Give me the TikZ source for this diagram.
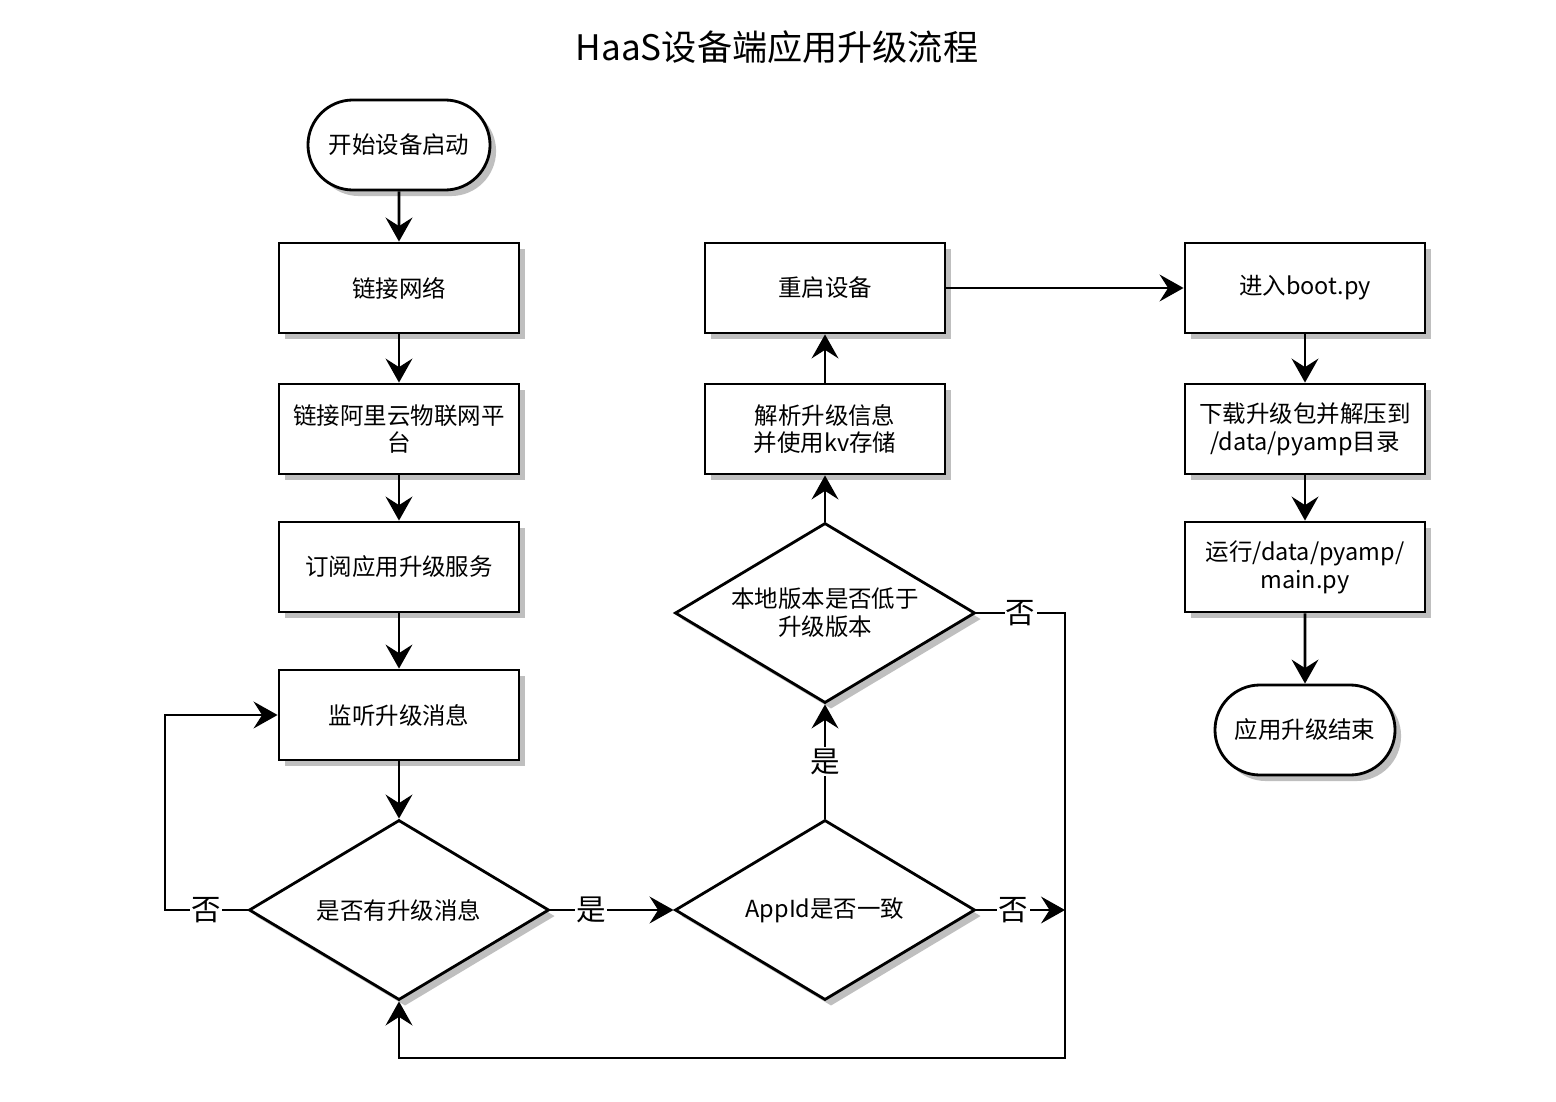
\documentclass[tikz,border=0pt]{standalone}
\usepackage{fontspec}
\setmainfont{Noto Sans CJK SC}
\usetikzlibrary{arrows.meta,shapes.geometric,shapes.misc,shadows}
\tikzset{
  flow/.style={draw, line width=2pt, fill=white, font=\fontsize{16.7}{19.8}\selectfont, align=center,
    drop shadow={shadow xshift=4.3pt, shadow yshift=-4.3pt, fill=black!25, opacity=1}},
  procbox/.style={flow, rectangle, minimum width=6cm, minimum height=2.25cm, inner sep=0pt},
  termbox/.style={flow, rounded rectangle, minimum width=4.55cm, minimum height=2.25cm, inner sep=0pt},
  decbox/.style={flow, diamond, shape aspect=1.6667, minimum width=7.5cm, minimum height=4.5cm, inner sep=0pt},
  lbl/.style={fill=white, inner sep=1pt, font=\fontsize{21}{24}\selectfont},
  conn/.style={line width=2pt, -{Stealth[length=17pt, width=19pt, inset=6pt]}}
}
\begin{document}
\begin{tikzpicture}[x=0.025cm, y=-0.025cm]
      \useasboundingbox (0,0) rectangle (1556,1102);
      \node (title) at (777,47) {\fontsize{25}{30}\selectfont HaaS设备端应用升级流程};

      \node [termbox] (start) at (399,145) {开始设备启动};
      \node [procbox] (net) at (399,288) {链接网络};
      \node [procbox] (cloud) at (399,429) {链接阿里云物联网平\\台};
      \node [procbox] (sub) at (399,567) {订阅应用升级服务};
      \node [procbox] (listen) at (399,715) {监听升级消息};
      \node [decbox] (hasmsg) at (399,910) {是否有升级消息};
      \node [decbox] (appid) at (825,910) {AppId是否一致};
      \node [decbox] (ver) at (825,613) {本地版本是否低于\\升级版本};
      \node [procbox] (parse) at (825,429) {解析升级信息\\并使用kv存储};
      \node [procbox] (reboot) at (825,288) {重启设备};
      \node [procbox] (boot) at (1305,288) {进入boot.py};
      \node [procbox] (unzip) at (1305,429) {下载升级包并解压到\\/data/pyamp目录};
      \node [procbox] (run) at (1305,567) {运行/data/pyamp/\\main.py};
      \node [termbox, minimum width=4.5cm] (stop) at (1305,730) {应用升级结束};

      \coordinate (loopL) at (165,910);
      \coordinate (backT) at (1065,613);
      \coordinate (backJ) at (1065,910);
      \coordinate (backB) at (1065,1058);

      \draw [conn] (start) -- (net);
      \draw [conn] (net) -- (cloud);
      \draw [conn] (cloud) -- (sub);
      \draw [conn] (sub) -- (listen);
      \draw [conn] (listen) -- (hasmsg);
      \draw [conn] (hasmsg.west) -- node [lbl] {否} (loopL) |- (listen.west);
      \draw [conn] (hasmsg.east) -- node [lbl, pos=0.33] {是} (appid.west);
      \draw [conn] (appid.north) -- node [lbl] {是} (ver.south);
      \draw [conn] (ver) -- (parse);
      \draw [conn] (parse) -- (reboot);
      \draw [conn] (reboot) -- (boot);
      \draw [conn] (ver.east) -- node [lbl] {否} (backT) -- (backB) -| (hasmsg.south);
      \draw [conn] (appid.east) -- node [lbl, pos=0.42] {否} (backJ);
      \draw [conn] (boot) -- (unzip);
      \draw [conn] (unzip) -- (run);
      \draw [conn] (run) -- (stop);
    \end{tikzpicture}
\end{document}
